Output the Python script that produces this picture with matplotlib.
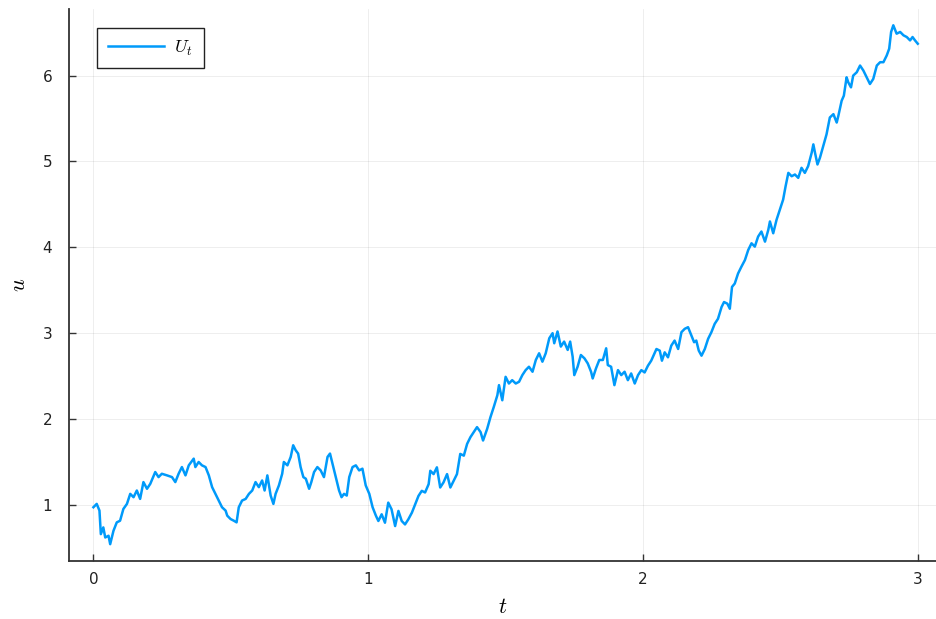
import matplotlib
matplotlib.use("Agg")
import matplotlib.pyplot as plt

t = [0.000, 0.012, 0.022, 0.027, 0.036, 0.043, 0.055, 0.061, 0.067, 0.073, 0.085, 0.097,
     0.109, 0.122, 0.134, 0.146, 0.158, 0.170, 0.182, 0.195, 0.207, 0.225, 0.237, 0.249,
     0.268, 0.286, 0.298, 0.310, 0.322, 0.335, 0.347, 0.365, 0.371, 0.383, 0.395, 0.408,
     0.420, 0.432, 0.444, 0.456, 0.468, 0.481, 0.487, 0.499, 0.511, 0.521, 0.529, 0.541,
     0.554, 0.566, 0.578, 0.590, 0.602, 0.614, 0.623, 0.633, 0.645, 0.655, 0.663, 0.675,
     0.687, 0.693, 0.706, 0.718, 0.727, 0.736, 0.745, 0.754, 0.764, 0.773, 0.785, 0.793,
     0.803, 0.815, 0.827, 0.839, 0.852, 0.861, 0.870, 0.882, 0.894, 0.903, 0.912, 0.922,
     0.931, 0.943, 0.955, 0.967, 0.979, 0.991, 1.004, 1.016, 1.028, 1.037, 1.049, 1.061,
     1.073, 1.085, 1.098, 1.110, 1.122, 1.134, 1.146, 1.159, 1.171, 1.183, 1.195, 1.207,
     1.220, 1.226, 1.238, 1.250, 1.262, 1.274, 1.287, 1.299, 1.311, 1.323, 1.335, 1.348,
     1.360, 1.372, 1.384, 1.396, 1.409, 1.418, 1.433, 1.445, 1.457, 1.470, 1.476, 1.488,
     1.500, 1.512, 1.524, 1.537, 1.549, 1.561, 1.573, 1.585, 1.598, 1.610, 1.622, 1.634,
     1.646, 1.659, 1.671, 1.677, 1.689, 1.701, 1.713, 1.726, 1.735, 1.744, 1.750, 1.762,
     1.774, 1.787, 1.799, 1.811, 1.817, 1.829, 1.841, 1.854, 1.866, 1.872, 1.884, 1.896,
     1.909, 1.921, 1.933, 1.945, 1.957, 1.970, 1.982, 1.994, 2.006, 2.018, 2.030, 2.049,
     2.061, 2.069, 2.079, 2.091, 2.103, 2.115, 2.128, 2.140, 2.152, 2.164, 2.176, 2.186,
     2.194, 2.203, 2.213, 2.225, 2.237, 2.249, 2.261, 2.273, 2.286, 2.295, 2.307, 2.316,
     2.324, 2.334, 2.346, 2.358, 2.371, 2.383, 2.395, 2.407, 2.419, 2.431, 2.444, 2.456,
     2.462, 2.474, 2.486, 2.498, 2.510, 2.519, 2.529, 2.541, 2.553, 2.565, 2.577, 2.589,
     2.601, 2.614, 2.620, 2.626, 2.635, 2.644, 2.656, 2.668, 2.680, 2.693, 2.705, 2.711,
     2.723, 2.731, 2.741, 2.747, 2.757, 2.765, 2.778, 2.790, 2.802, 2.814, 2.826, 2.838,
     2.851, 2.863, 2.875, 2.887, 2.896, 2.903, 2.911, 2.923, 2.936, 2.948, 2.960, 2.972,
     2.981, 2.990, 3.000]

u = [0.973, 1.012, 0.934, 0.660, 0.738, 0.621, 0.641, 0.543, 0.621, 0.699, 0.797, 0.816,
     0.953, 1.012, 1.129, 1.090, 1.168, 1.070, 1.266, 1.188, 1.246, 1.383, 1.324, 1.363,
     1.344, 1.324, 1.266, 1.363, 1.441, 1.344, 1.461, 1.539, 1.441, 1.500, 1.461, 1.441,
     1.344, 1.207, 1.129, 1.051, 0.973, 0.934, 0.875, 0.836, 0.816, 0.797, 0.973, 1.051,
     1.070, 1.129, 1.168, 1.266, 1.207, 1.285, 1.168, 1.344, 1.109, 1.012, 1.129, 1.227,
     1.363, 1.500, 1.461, 1.559, 1.695, 1.637, 1.598, 1.441, 1.324, 1.305, 1.188, 1.266,
     1.383, 1.441, 1.402, 1.324, 1.559, 1.598, 1.480, 1.324, 1.168, 1.090, 1.129, 1.109,
     1.324, 1.441, 1.461, 1.402, 1.422, 1.227, 1.129, 0.973, 0.875, 0.813, 0.891, 0.793,
     1.027, 0.949, 0.754, 0.930, 0.813, 0.773, 0.832, 0.910, 1.008, 1.105, 1.164, 1.145,
     1.242, 1.398, 1.359, 1.438, 1.203, 1.262, 1.359, 1.203, 1.281, 1.359, 1.594, 1.574,
     1.711, 1.789, 1.848, 1.906, 1.848, 1.750, 1.887, 2.023, 2.141, 2.277, 2.395, 2.219,
     2.492, 2.414, 2.453, 2.414, 2.434, 2.512, 2.570, 2.609, 2.551, 2.688, 2.766, 2.668,
     2.766, 2.941, 3.000, 2.883, 3.020, 2.844, 2.902, 2.805, 2.902, 2.727, 2.512, 2.609,
     2.746, 2.707, 2.648, 2.551, 2.473, 2.590, 2.688, 2.688, 2.824, 2.629, 2.609, 2.395,
     2.570, 2.512, 2.551, 2.453, 2.531, 2.414, 2.512, 2.570, 2.543, 2.621, 2.680, 2.816,
     2.797, 2.680, 2.777, 2.719, 2.855, 2.914, 2.816, 3.012, 3.051, 3.070, 2.973, 2.895,
     2.914, 2.797, 2.738, 2.816, 2.934, 3.012, 3.109, 3.168, 3.305, 3.363, 3.344, 3.285,
     3.539, 3.578, 3.695, 3.773, 3.852, 3.969, 4.047, 4.008, 4.125, 4.184, 4.066, 4.203,
     4.301, 4.164, 4.320, 4.438, 4.555, 4.711, 4.867, 4.828, 4.848, 4.809, 4.926, 4.867,
     4.945, 5.102, 5.199, 5.102, 4.965, 5.043, 5.180, 5.316, 5.512, 5.551, 5.453, 5.531,
     5.707, 5.766, 5.980, 5.922, 5.863, 6.000, 6.039, 6.117, 6.059, 5.980, 5.902, 5.961,
     6.117, 6.156, 6.156, 6.234, 6.313, 6.508, 6.586, 6.488, 6.508, 6.469, 6.449, 6.410,
     6.449, 6.410, 6.371]

x_ticks = [0, 1, 2, 3]
y_ticks = [1, 2, 3, 4, 5, 6]
series_label = r"$U_t$"

plt.rcParams["mathtext.fontset"] = "cm"
plt.rcParams["font.family"] = "DejaVu Sans"

fig = plt.figure(figsize=(9.37, 6.19), dpi=100)
ax = fig.add_axes([0.0736, 0.0937, 0.9264, 0.891])

ax.plot(t, u, color="#009AFA", linewidth=1.8, label=series_label)

ax.set_xlim(-0.089, 3.07)
ax.set_ylim(0.347, 6.77)
ax.set_xticks(x_ticks)
ax.set_yticks(y_ticks)
ax.grid(True, color="#000000", alpha=0.08, linewidth=0.6)
ax.set_axisbelow(True)

for side in ("top", "right"):
    ax.spines[side].set_visible(False)
for side in ("left", "bottom"):
    ax.spines[side].set_color("#333333")
    ax.spines[side].set_linewidth(1.3)

ax.tick_params(direction="in", length=5, width=1.0, color="#333333",
               labelsize=11, labelcolor="#222222")
ax.tick_params(axis="x", pad=8)
ax.tick_params(axis="y", pad=12)

ax.set_xlabel(r"$t$", fontsize=16, labelpad=7)
ax.set_ylabel(r"$u$", fontsize=16, labelpad=10)

leg = ax.legend(loc="upper left", bbox_to_anchor=(0.032, 0.967), borderaxespad=0,
                fancybox=False, framealpha=1, edgecolor="#222222", fontsize=13,
                handlelength=3.1, handletextpad=0.6, borderpad=0.6)
leg.get_frame().set_linewidth(1.0)

fig.savefig("out.png", dpi=100)
